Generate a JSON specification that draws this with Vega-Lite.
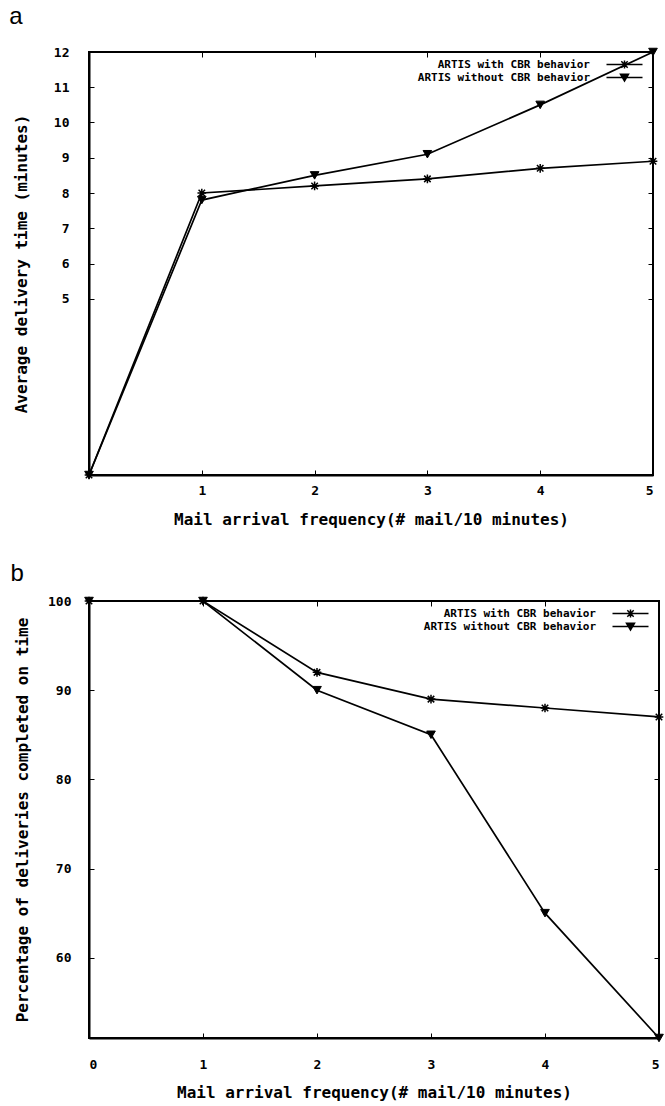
{
  "$schema": "https://vega.github.io/schema/vega-lite/v6.json",
  "background": "white",
  "padding": {"left": 8, "top": 4, "right": 6, "bottom": 0},
  "spacing": 8,
  "align": "all",
  "resolve": {"scale": {"shape": "independent"}, "legend": {"shape": "independent"}},
  "config": {
    "view": {"stroke": "black", "strokeWidth": 2},
    "axis": {
      "labelFont": "DejaVu Sans Mono", "labelFontWeight": "bold", "labelFontSize": 13, "labelColor": "black",
      "titleFont": "DejaVu Sans Mono", "titleFontWeight": "bold", "titleFontSize": 16, "titleColor": "black",
      "domainColor": "black", "domainWidth": 2, "tickColor": "black", "tickWidth": 1, "tickSize": -5, "grid": false
    },
    "legend": {
      "labelFont": "DejaVu Sans Mono", "labelFontWeight": "bold", "labelFontSize": 11, "labelColor": "black", "labelLimit": 400
    },
    "title": {"font": "Liberation Sans", "fontSize": 24, "fontWeight": "normal", "color": "black", "anchor": "start", "frame": "bounds"}
  },
  "vconcat": [
    {
      "width": 564, "height": 423,
      "title": {"text": "a", "dx": -4, "offset": 17},
      "data": {"values": [
        {"x": 0, "value": 0, "series": "ARTIS with CBR behavior"},
        {"x": 1, "value": 8.0, "series": "ARTIS with CBR behavior"},
        {"x": 2, "value": 8.2, "series": "ARTIS with CBR behavior"},
        {"x": 3, "value": 8.4, "series": "ARTIS with CBR behavior"},
        {"x": 4, "value": 8.7, "series": "ARTIS with CBR behavior"},
        {"x": 5, "value": 8.9, "series": "ARTIS with CBR behavior"},
        {"x": 0, "value": 0, "series": "ARTIS without CBR behavior"},
        {"x": 1, "value": 7.8, "series": "ARTIS without CBR behavior"},
        {"x": 2, "value": 8.5, "series": "ARTIS without CBR behavior"},
        {"x": 3, "value": 9.1, "series": "ARTIS without CBR behavior"},
        {"x": 4, "value": 10.5, "series": "ARTIS without CBR behavior"},
        {"x": 5, "value": 12.0, "series": "ARTIS without CBR behavior"}
      ]},
      "layer": [
        {
          "mark": {"type": "line", "color": "black", "strokeWidth": 1.7},
          "encoding": {
            "x": {"field": "x", "type": "quantitative", "scale": {"domain": [0, 5], "nice": false},
                  "axis": {"values": [1, 2, 3, 4, 5], "title": "Mail arrival frequency(# mail/10 minutes)", "labelPadding": 14, "titlePadding": 14}},
            "y": {"field": "value", "type": "quantitative", "scale": {"domain": [0, 12], "nice": false, "zero": false},
                  "axis": {"values": [5, 6, 7, 8, 9, 10, 11, 12], "title": "Average delivery time (minutes)", "labelPadding": 25, "titlePadding": 24}},
            "detail": {"field": "series"}
          }
        },
        {
          "mark": {"type": "point", "filled": false, "color": "black", "stroke": "black", "strokeWidth": 1.5, "opacity": 0, "size": 64},
          "encoding": {
            "x": {"field": "x", "type": "quantitative", "scale": {"domain": [0, 5], "nice": false},
                  "axis": {"orient": "top", "values": [1, 2, 3, 4, 5], "labels": false, "title": null, "domain": false}},
            "y": {"field": "value", "type": "quantitative", "scale": {"domain": [0, 12], "nice": false, "zero": false},
                  "axis": {"orient": "right", "values": [5, 6, 7, 8, 9, 10, 11, 12], "labels": false, "title": null, "domain": false}},
            "shape": {"field": "series", "type": "nominal",
              "scale": {"domain": ["ARTIS with CBR behavior", "ARTIS without CBR behavior"],
                        "range": ["M-4.5,0L4.5,0M0,-1L0,1M-0.8,-0.8L0.8,0.8M-0.8,0.8L0.8,-0.8", "M-4.5,0L4.5,0M-1,-0.8L1,-0.8L0,0.9ZM-0.79,-0.45L0.79,-0.45M-0.59,-0.1L0.59,-0.1M-0.38,0.25L0.38,0.25M-0.18,0.6L0.18,0.6"]},
              "legend": {"title": null, "orient": "top-right", "offset": 7, "padding": 0, "symbolSize": 64, "rowPadding": -2,
                "labelAlign": "right", "labelOffset": -40, "symbolStrokeWidth": 1.5, "symbolOpacity": 1,
                "symbolStrokeColor": "black"}}
          }
        },
        {
          "transform": [{"filter": "datum.series == 'ARTIS with CBR behavior'"}],
          "mark": {"type": "point", "shape": "M0,-1L0,1M-1,0L1,0M-0.75,-0.75L0.75,0.75M-0.75,0.75L0.75,-0.75", "filled": false, "stroke": "black", "strokeWidth": 1.5, "opacity": 1, "size": 75},
          "encoding": {
            "x": {"field": "x", "type": "quantitative", "axis": null},
            "y": {"field": "value", "type": "quantitative", "axis": null}
          }
        },
        {
          "transform": [{"filter": "datum.series == 'ARTIS without CBR behavior'"}],
          "mark": {"type": "point", "shape": "triangle-down", "filled": true, "fill": "black", "stroke": "black", "strokeWidth": 1, "opacity": 1, "size": 75},
          "encoding": {
            "x": {"field": "x", "type": "quantitative", "axis": null},
            "y": {"field": "value", "type": "quantitative", "axis": null}
          }
        }
      ],
      "resolve": {"axis": {"x": "independent", "y": "independent"}}
    },
    {
      "width": 570, "height": 437,
      "title": {"text": "b", "dx": -4, "offset": 8},
      "data": {"values": [
        {"x": 0, "value": 100, "series": "ARTIS with CBR behavior"},
        {"x": 1, "value": 100, "series": "ARTIS with CBR behavior"},
        {"x": 2, "value": 92, "series": "ARTIS with CBR behavior"},
        {"x": 3, "value": 89, "series": "ARTIS with CBR behavior"},
        {"x": 4, "value": 88, "series": "ARTIS with CBR behavior"},
        {"x": 5, "value": 87, "series": "ARTIS with CBR behavior"},
        {"x": 0, "value": 100, "series": "ARTIS without CBR behavior"},
        {"x": 1, "value": 100, "series": "ARTIS without CBR behavior"},
        {"x": 2, "value": 90, "series": "ARTIS without CBR behavior"},
        {"x": 3, "value": 85, "series": "ARTIS without CBR behavior"},
        {"x": 4, "value": 65, "series": "ARTIS without CBR behavior"},
        {"x": 5, "value": 51, "series": "ARTIS without CBR behavior"}
      ]},
      "layer": [
        {
          "mark": {"type": "line", "color": "black", "strokeWidth": 1.7},
          "encoding": {
            "x": {"field": "x", "type": "quantitative", "scale": {"domain": [0, 5], "nice": false},
                  "axis": {"values": [0, 1, 2, 3, 4, 5], "title": "Mail arrival frequency(# mail/10 minutes)", "labelPadding": 25, "titlePadding": 13}},
            "y": {"field": "value", "type": "quantitative", "scale": {"domain": [51, 100], "nice": false, "zero": false},
                  "axis": {"values": [60, 70, 80, 90, 100], "title": "Percentage of deliveries completed on time", "labelPadding": 23, "titlePadding": 17}},
            "detail": {"field": "series"}
          }
        },
        {
          "mark": {"type": "point", "filled": false, "color": "black", "stroke": "black", "strokeWidth": 1.5, "opacity": 0, "size": 64},
          "encoding": {
            "x": {"field": "x", "type": "quantitative", "scale": {"domain": [0, 5], "nice": false},
                  "axis": {"orient": "top", "values": [1, 2, 3, 4, 5], "labels": false, "title": null, "domain": false}},
            "y": {"field": "value", "type": "quantitative", "scale": {"domain": [51, 100], "nice": false, "zero": false},
                  "axis": {"orient": "right", "values": [60, 70, 80, 90, 100], "labels": false, "title": null, "domain": false}},
            "shape": {"field": "series", "type": "nominal",
              "scale": {"domain": ["ARTIS with CBR behavior", "ARTIS without CBR behavior"],
                        "range": ["M-4.5,0L4.5,0M0,-1L0,1M-0.8,-0.8L0.8,0.8M-0.8,0.8L0.8,-0.8", "M-4.5,0L4.5,0M-1,-0.8L1,-0.8L0,0.9ZM-0.79,-0.45L0.79,-0.45M-0.59,-0.1L0.59,-0.1M-0.38,0.25L0.38,0.25M-0.18,0.6L0.18,0.6"]},
              "legend": {"title": null, "orient": "top-right", "offset": 7, "padding": 0, "symbolSize": 64, "rowPadding": -2,
                "labelAlign": "right", "labelOffset": -40, "symbolStrokeWidth": 1.5, "symbolOpacity": 1,
                "symbolStrokeColor": "black"}}
          }
        },
        {
          "transform": [{"filter": "datum.series == 'ARTIS with CBR behavior'"}],
          "mark": {"type": "point", "shape": "M0,-1L0,1M-1,0L1,0M-0.75,-0.75L0.75,0.75M-0.75,0.75L0.75,-0.75", "filled": false, "stroke": "black", "strokeWidth": 1.5, "opacity": 1, "size": 75},
          "encoding": {
            "x": {"field": "x", "type": "quantitative", "axis": null},
            "y": {"field": "value", "type": "quantitative", "axis": null}
          }
        },
        {
          "transform": [{"filter": "datum.series == 'ARTIS without CBR behavior'"}],
          "mark": {"type": "point", "shape": "triangle-down", "filled": true, "fill": "black", "stroke": "black", "strokeWidth": 1, "opacity": 1, "size": 75},
          "encoding": {
            "x": {"field": "x", "type": "quantitative", "axis": null},
            "y": {"field": "value", "type": "quantitative", "axis": null}
          }
        }
      ],
      "resolve": {"axis": {"x": "independent", "y": "independent"}}
    }
  ]
}
